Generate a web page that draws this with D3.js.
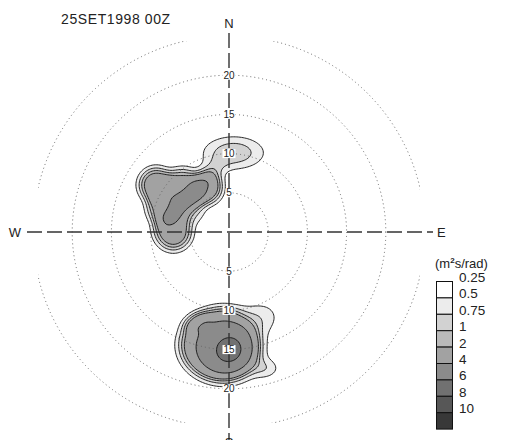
<!doctype html>
<html>
<head>
<meta charset="utf8">
<style>
  body { margin: 0; background: #fff; }
  text { font-family: "Liberation Sans", Arial, sans-serif; fill: #222; }
  .ring { fill: none; stroke: #666; stroke-width: 1; stroke-dasharray: 1,3; }
  .axis { stroke: #333; stroke-width: 1.4; stroke-dasharray: 15,5; }
  .iso { stroke: #111; stroke-width: 0.9; }
  .box { stroke: #111; stroke-width: 1; }
</style>
<script src="https://cdnjs.cloudflare.com/ajax/libs/d3/7.8.5/d3.min.js"></script>
</head>
<body>
<svg width="511" height="440"></svg>
<script>
// period rings (s) and their labels on the N-S axis
var ringPeriods = [5, 10, 15, 20, 25];
var ringLabels = [5, 10, 15, 20];
var compass = ["N", "E", "S", "W"];

// contour levels of directional spectrum (m2 s/rad) and legend shades
var levels = [0.25, 0.5, 0.75, 1, 2, 4, 6, 8, 10];
var levelFills = ["#ffffff", "#ececec", "#d2d2d2", "#bababa", "#a2a2a2",
                  "#8b8b8b", "#717171", "#575757", "#383838"];

// spectral peaks (position in period units, x east / y north)
// north system: three corners, three edge fills, core; then small 10 s lobe and neck
var northX     = [-9.3, -2.9, -7.1, -6.0, -5.0, -8.3, -5.4,  0.6, -2.0];
var northY     = [ 6.0,  5.6,  0.0,  5.9,  2.9,  3.1,  4.0, 10.1,  8.0];
var northAmp   = [ 1.4,  1.3,  1.4,  1.2,  0.5,  1.2,  2.0, 0.72, 0.35];
var northSa    = [ 1.7,  1.6,  1.8,  1.7,  1.6,  1.7,  2.3,  2.6,  1.3];
var northSb    = [ 1.7,  1.6,  1.8,  1.7,  1.6,  1.7,  0.9,  1.4,  0.9];
var northRot   = [   0,    0,    0,    0,    0,    0,   43,    0,   40];
var northShape = [ 1.5,  1.5,  1.5,  1.5,  1.5,  1.5,  1.0,  1.0,  1.0];
// south system: broad swell, 15 s peak, light patches to the NE, SE, N and NW
var southX     = [ -1.4,   0.1,   3.6,   4.6,  -0.4,  -4.0];
var southY     = [-14.4, -15.1, -11.2, -17.4, -10.2, -11.5];
var southAmp   = [  1.9,   3.0,  0.45,   0.4,   0.3,   0.5];
var southSa    = [  4.0,   2.0,   2.0,   1.3,   1.6,   1.5];
var southSb    = [  3.6,   1.9,   1.5,   0.9,   0.8,   1.0];
var southRot   = [    0,     0,    20,     0,     0,    20];
var southShape = [  2.2,   1.0,   1.0,   1.0,   1.0,   1.5];

var peakX = northX.concat(southX), peakY = northY.concat(southY),
    peakAmp = northAmp.concat(southAmp), peakSa = northSa.concat(southSa),
    peakSb = northSb.concat(southSb), peakRot = northRot.concat(southRot),
    peakShape = northShape.concat(southShape);

var svg = d3.select("svg"),
    cx = 229, cy = 232, R = 196, maxPeriod = 25;

var x = d3.scaleLinear().domain([-maxPeriod, maxPeriod]).range([cx - R, cx + R]),
    y = d3.scaleLinear().domain([-maxPeriod, maxPeriod]).range([cy + R, cy - R]),
    r = d3.scaleLinear().domain([0, maxPeriod]).range([0, R]);

// energy field on a grid
var step = 0.2, g0 = 26,
    n = Math.round(2 * g0 / step) + 1,
    values = new Array(n * n);

function energy(px, py) {
    var s = 0;
    for (var k = 0; k < peakX.length; k++) {
        var a = peakRot[k] * Math.PI / 180,
            dx = px - peakX[k], dy = py - peakY[k],
            u = (dx * Math.cos(a) + dy * Math.sin(a)) / peakSa[k],
            v = (-dx * Math.sin(a) + dy * Math.cos(a)) / peakSb[k];
        s += peakAmp[k] * Math.exp(-0.5 * Math.pow(u * u + v * v, peakShape[k]));
    }
    return s;
}

for (var j = 0; j < n; j++) {
    for (var i = 0; i < n; i++) {
        values[j * n + i] = energy(-g0 + i * step, g0 - j * step);
    }
}

var contours = d3.contours().size([n, n]).thresholds(levels)(values);

var toScreen = d3.geoTransform({
    point: function(gx, gy) {
        this.stream.point(x(-g0 + (gx - 0.5) * step), y(g0 - (gy - 0.5) * step));
    }
});
var path = d3.geoPath(toScreen);

// band above each level takes the next legend shade
svg.append("g")
   .selectAll("path")
   .data(contours)
   .enter().append("path")
   .attr("class", "iso")
   .attr("d", path)
   .attr("fill", function(d, i) { return levelFills[Math.min(i + 1, levelFills.length - 1)]; });

// dotted rings, outer one clipped to a square
svg.append("clipPath").attr("id", "sq")
   .append("rect")
   .attr("x", cx - 191).attr("y", cy - 191)
   .attr("width", 382).attr("height", 382);

svg.append("g")
   .selectAll("circle")
   .data(ringPeriods)
   .enter().append("circle")
   .attr("class", "ring")
   .attr("cx", cx).attr("cy", cy)
   .attr("r", function(d) { return r(d); })
   .attr("clip-path", function(d) { return d === maxPeriod ? "url(#sq)" : null; });

// axes
svg.append("line").attr("class", "axis")
   .attr("x1", cx).attr("y1", 33).attr("x2", cx).attr("y2", 440);
svg.append("line").attr("class", "axis")
   .attr("x1", 27).attr("y1", cy).attr("x2", 433).attr("y2", cy);

var compassPos = {
    N: [cx, 28, "middle"],
    E: [437, cy + 5, "start"],
    S: [cx, 447, "middle"],
    W: [21, cy + 5, "end"]
};
svg.selectAll(".compass")
   .data(compass)
   .enter().append("text")
   .attr("x", function(d) { return compassPos[d][0]; })
   .attr("y", function(d) { return compassPos[d][1]; })
   .attr("text-anchor", function(d) { return compassPos[d][2]; })
   .attr("font-size", "13px")
   .text(function(d) { return d; });

// ring labels north and south
var lab = [];
ringLabels.forEach(function(p) { lab.push({p: p, s: -1}); lab.push({p: p, s: 1}); });
var lg = svg.append("g").selectAll("g")
   .data(lab)
   .enter().append("g")
   .attr("transform", function(d) { return "translate(" + cx + "," + (cy + d.s * r(d.p)) + ")"; });
lg.append("rect")
  .attr("x", function(d) { return d.p < 10 ? -3.5 : -6.5; })
  .attr("y", -4.5)
  .attr("width", function(d) { return d.p < 10 ? 7 : 13; })
  .attr("height", 9)
  .attr("fill", "#fff");
lg.append("text")
  .attr("text-anchor", "middle")
  .attr("y", 3.6)
  .attr("font-size", "10px")
  .text(function(d) { return d.p; });

// title
svg.append("text")
   .attr("x", 61).attr("y", 24)
   .attr("font-size", "14px")
   .attr("letter-spacing", "0.6px")
   .text("25SET1998 00Z");

// legend
var legTop = 281.5, legH = 16.4;
var unit = svg.append("text")
   .attr("x", 435).attr("y", 268)
   .attr("font-size", "13px");
unit.append("tspan").text("(m");
unit.append("tspan").attr("dy", -5).attr("font-size", "8px").attr("font-weight", "bold").text("2");
unit.append("tspan").attr("dy", 5).text("s/rad)");

svg.append("g")
   .selectAll("rect")
   .data(levelFills)
   .enter().append("rect")
   .attr("class", "box")
   .attr("x", 436.5)
   .attr("y", function(d, i) { return legTop + i * legH; })
   .attr("width", 16)
   .attr("height", legH)
   .attr("fill", function(d) { return d; });

svg.append("g")
   .selectAll("text")
   .data(levels)
   .enter().append("text")
   .attr("x", 459)
   .attr("y", function(d, i) { return legTop + i * legH + 0.5; })
   .attr("font-size", "13.5px")
   .text(function(d) { return d; });
</script>
</body>
</html>
